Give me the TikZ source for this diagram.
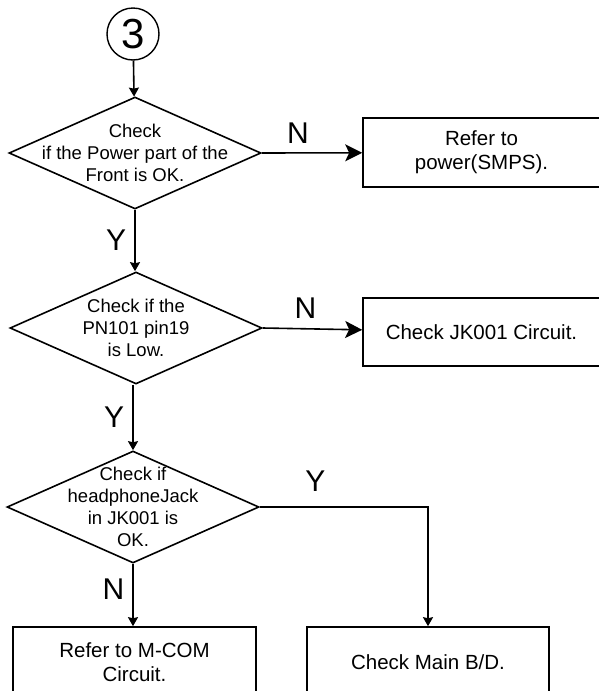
\documentclass[tikz,border=0pt]{standalone}
\usepackage{fontspec}
\setmainfont{Liberation Sans}
\usetikzlibrary{positioning,shapes.geometric,arrows.meta}

\begin{document}
\begin{tikzpicture}[
      x=1pt, y=-1pt,
      decision/.style={diamond, draw, line width=1.6pt, minimum width=252pt, minimum height=112pt, inner sep=0pt},
      asktext/.style={align=center, inner sep=0pt, font=\fontsize{18.5}{22}\selectfont},
      block/.style={rectangle, draw, line width=1.6pt, align=center, inner sep=0pt, font=\fontsize{20.5}{24}\selectfont},
      connector/.style={circle, draw, line width=1.4pt, minimum size=52pt, inner sep=0pt, font=\fontsize{42}{42}\selectfont},
      answer/.style={inner sep=0pt, font=\fontsize{30}{30}\selectfont},
      arrow/.style={-{Stealth[length=9pt, width=10pt, inset=1pt]}, line width=1.6pt},
      bigarrow/.style={-{Stealth[length=17pt, width=17pt, inset=4pt]}, line width=1.6pt}
    ]
      \useasboundingbox (0,0) rectangle (598,691);

      \node[connector] (start) at (133,34) {3};
      \node[decision, label={[asktext]center:Check\\if the Power part of the\\Front is OK.}] (power) at (135,153) {};
      \node[block, minimum width=237pt, minimum height=69pt] (smps) at (481.5,152.5) {Refer to\\power(SMPS).};
      \node[decision, label={[asktext]center:Check if the\\PN101 pin19\\is Low.}] (pin) at (136,328) {};
      \node[block, minimum width=237pt, minimum height=68pt] (jack) at (481.5,332) {Check JK001 Circuit.};
      \node[decision, label={[asktext]center:Check if\\headphoneJack\\in JK001 is\\OK.}] (phone) at (133,507) {};
      \node[block, minimum width=243pt, minimum height=70pt] (mcom) at (134.5,662) {Refer to M-COM\\Circuit.};
      \node[block, minimum width=242pt, minimum height=70pt] (mainbd) at (428,662) {Check Main B/D.};

      \draw[arrow] (start) -- (power);
      \draw[bigarrow] (power.east) -- node[answer, above=9pt, pos=0.36]{N} (smps);
      \draw[arrow] (power.south) -- node[answer, left=8pt]{Y} (pin.north -| power.south);
      \draw[bigarrow] (pin.east) -- node[answer, above=9pt, pos=0.43]{N} (jack);
      \draw[arrow] (pin.south -| phone.north) -- node[answer, left=8pt]{Y} (phone.north);
      \draw[arrow] (phone.east) -- node[answer, above=15pt, pos=0.33]{Y} (phone.east -| mainbd.north) -- (mainbd.north);
      \draw[arrow] (phone.south) -- node[answer, left=8pt, pos=0.4]{N} (mcom.north -| phone.south);
    \end{tikzpicture}
\end{document}
